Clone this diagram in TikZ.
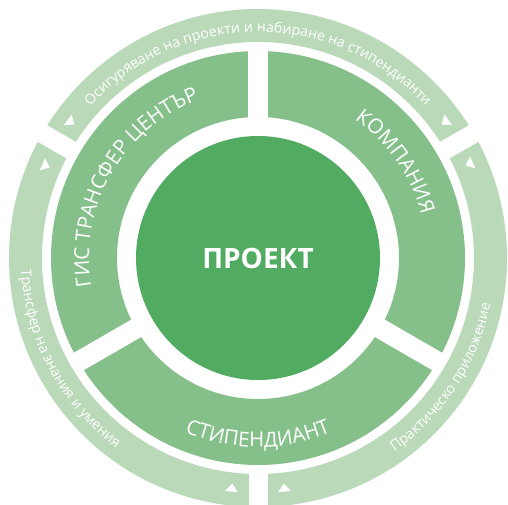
\documentclass[tikz,border=0pt]{standalone}
\usepackage{fontspec}
\setmainfont{Open Sans}
\usepackage{tikz}
\usetikzlibrary{decorations.text,shapes.geometric,positioning}
\definecolor{coregreen}{RGB}{81,171,96}
\definecolor{midgreen}{RGB}{133,192,138}
\definecolor{outgreen}{RGB}{185,217,185}
\newcommand\bigfont{\fontsize{20.5}{24}\selectfont}
\newcommand\smallfont{\fontsize{14.2}{17}\selectfont}
\tikzset{core node/.style={circle,fill=coregreen,text=white,minimum size=244pt,inner sep=0pt,font=\fontsize{28}{32}\selectfont\bfseries},
         tri node/.style={isosceles triangle,isosceles triangle stretches,fill=white,minimum width=13pt,minimum height=8pt,inner sep=0pt},
         gap line/.style={white,line width=20pt},
         ring label/.style={decorate,decoration={text along path,text align=center,text color=white}},
            }

\begin{document}
\begin{tikzpicture}

    \useasboundingbox (-258pt,-246pt) rectangle (250pt,258pt);

    % rings
    \fill[outgreen,even odd rule] (0,0) circle (249pt) (0,0) circle (216pt);
    \fill[midgreen,even odd rule] (0,0) circle (207pt) (0,0) circle (141pt);

    \draw[gap line] (0,0) -- (90:212pt);
    \draw[gap line] (0,0) -- (210:212pt);
    \draw[gap line] (0,0) -- (330:212pt);
    \draw[gap line,line width=19pt] (30:211pt) -- (30:260pt);
    \draw[gap line,line width=19pt] (150:211pt) -- (150:260pt);
    \draw[gap line,line width=19pt] (270:211pt) -- (270:260pt);

    \node[core node] (proekt) at (0,0) {ПРОЕКТ};

    % labels on the middle ring
    \path[ring label,decoration={text={|\bigfont|ГИС ТРАНСФЕР ЦЕНТЪР}}]
        (210:169pt) arc[start angle=210,end angle=90,radius=169pt];
    \path[ring label,decoration={text={|\bigfont|КОМПАНИЯ}}]
        (95:169pt) arc[start angle=95,end angle=-25,radius=169pt];
    \path[ring label,decoration={text={|\bigfont|СТИПЕНДИАНТ}}]
        (210:189pt) arc[start angle=210,end angle=330,radius=189pt];

    % labels on the outer ring
    \path[ring label,decoration={text={|\smallfont|Осигуряване на проекти и набиране на стипендианти}}]
        (150:226pt) arc[start angle=150,end angle=30,radius=226pt];
    \path[ring label,decoration={text={|\smallfont|Трансфер на знания и умения}}]
        (148:237pt) arc[start angle=148,end angle=268,radius=237pt];
    \path[ring label,decoration={text={|\smallfont|Практическо приложение}}]
        (267:237pt) arc[start angle=267,end angle=387,radius=237pt];

    % arrow marks
    \node[tri node,rotate=324] (t1) at (144:232pt) {};
    \node[tri node,rotate=336.5] (t2) at (156.5:232pt) {};
    \node[tri node,rotate=216] (t3) at (36:232pt) {};
    \node[tri node,rotate=204] (t4) at (24:232pt) {};
    \node[tri node,rotate=83.5] (t5) at (263.5:232pt) {};
    \node[tri node,rotate=96.5] (t6) at (276.5:232pt) {};

\end{tikzpicture}
\end{document}
